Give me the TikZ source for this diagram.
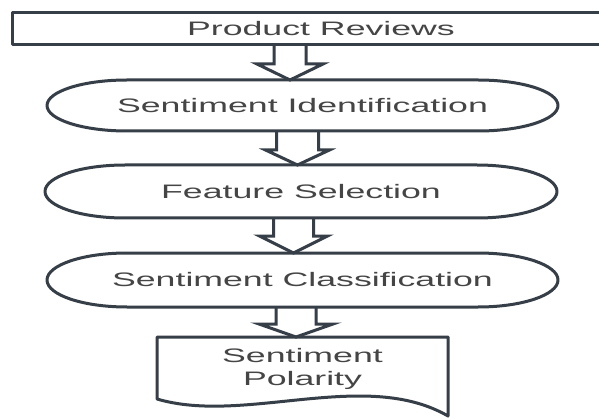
\documentclass[tikz,border=0pt]{standalone}
\usepackage{fontspec}
\setmainfont[FakeStretch=1.83]{Liberation Sans}
\usetikzlibrary{calc}
\definecolor{edge}{HTML}{363E48}
\definecolor{ink}{HTML}{454545}
\tikzset{
  shapeline/.style={draw=edge, line width=3pt, line join=round},
  arrowline/.style={draw=edge, line width=3pt, line join=miter},
  holder/.style={draw=none, inner sep=0pt, outer sep=0pt},
  txt/.style={text=ink, font=\fontsize{19.5}{23}\selectfont, inner sep=0pt},
}
\newcommand\pill[2]{% node name, half height
  \draw[shapeline] ([xshift=80pt]#1.north west) -- ([xshift=-80pt]#1.north east)
    arc[start angle=90, end angle=-90, x radius=80pt, y radius=#2pt]
    -- ([xshift=80pt]#1.south west)
    arc[start angle=270, end angle=90, x radius=80pt, y radius=#2pt] -- cycle;}
\newcommand\blockarrow[6]{% from, to, cx, shaft hw, head hw, head length
  \draw[arrowline] let \p1=(#1.south), \p2=(#2.north) in
    ({(#3-#4)*1pt}, \y1) -- ({(#3-#4)*1pt}, {\y2+#6pt}) -- ({(#3-#5)*1pt}, {\y2+#6pt})
    -- ({#3*1pt}, \y2) -- ({(#3+#5)*1pt}, {\y2+#6pt}) -- ({(#3+#4)*1pt}, {\y2+#6pt})
    -- ({(#3+#4)*1pt}, \y1);}
\begin{document}
\begin{tikzpicture}[x=1pt, y=1pt]
\useasboundingbox (0,0) rectangle (599,418);
\clip (0,0) rectangle (599,418);
\fill[white] (0,0) rectangle (599,418);

% top box (extends past right edge)
\node[holder, shapeline, minimum width=618pt, minimum height=32pt] (top) at (321,389) {};
\node[txt] (toptxt) at (top.center) {Product Reviews};

% process shapes
\node[holder, minimum width=511pt, minimum height=51pt] (e1) at (302.5,312.5) {};
\pill{e1}{25.5}
\node[txt] (e1txt) at (e1.center) {Sentiment Identification};

\node[holder, minimum width=512pt, minimum height=53pt] (e2) at (301,226.5) {};
\pill{e2}{26.5}
\node[txt] (e2txt) at (e2.center) {Feature Selection};

\node[holder, minimum width=511pt, minimum height=54pt] (e3) at (302.5,138) {};
\pill{e3}{27}
\node[txt] (e3txt) at (e3.center) {Sentiment Classification};

% document shape
\node[holder, minimum width=291pt, minimum height=63pt] (doc) at (302.5,49.5) {};
\draw[shapeline] (doc.north west) -- (doc.north east) -- (448,2)
  .. controls (365,50) and (245,-7) .. (157,19) -- cycle;
\node[txt, align=center] (doctxt) at (doc.center) {Sentiment\\Polarity};

% block arrows
\blockarrow{top}{e1}{290}{16}{33}{16}
\blockarrow{e1}{e2}{297.5}{21}{32}{15}
\blockarrow{e2}{e3}{293.5}{20}{34}{17}
\blockarrow{e3}{doc}{296}{20}{37}{13}
\end{tikzpicture}
\end{document}
